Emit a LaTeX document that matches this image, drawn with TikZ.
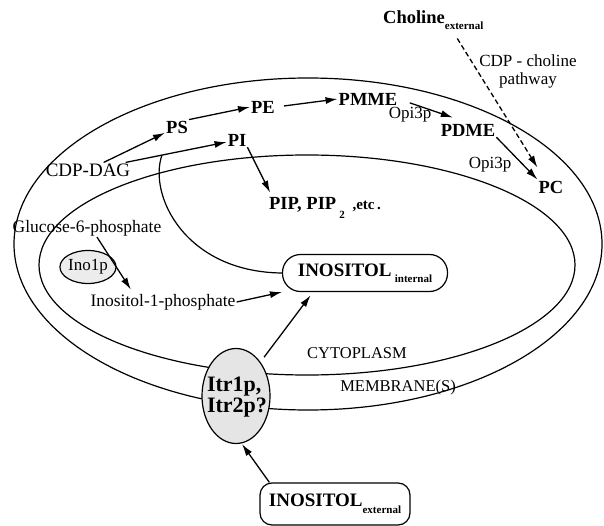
\documentclass[tikz,border=0pt]{standalone}
\usepackage{fontspec}
\setmainfont{Liberation Serif}
\usetikzlibrary{arrows.meta,shapes.geometric}
\newcommand{\fs}[1]{\fontsize{#1}{#1}\selectfont}
\begin{document}
\begin{tikzpicture}[x=1pt,y=-1pt,
  lbl/.style={inner sep=1pt, font=\fs{19}},
  blbl/.style={inner sep=1pt, font=\fs{18.5}\bfseries},
  arr/.style={line width=1.3pt, -{Latex[length=12pt,width=7pt]}},
  dasharr/.style={line width=1.3pt, dashed, dash pattern=on 5pt off 3pt, -{Latex[length=12pt,width=7pt]}},
  memb/.style={line width=1.2pt},
  ibox/.style={draw, line width=1.2pt, inner sep=0pt}]
\useasboundingbox (0,0) rectangle (604,526);

% membranes
\draw[memb] (308,244) ellipse [x radius=294pt, y radius=166pt];
\draw[memb] (307,265) ellipse [x radius=268pt, y radius=110pt];

% labels / nodes
\node[blbl, anchor=base west] (choline) at (382,24) {Choline\raisebox{-6pt}{\fs{11}\bfseries external}};
\node[lbl, align=center, font=\fs{17}] (cdpcp) at (528,71) {CDP - choline\\[1pt]pathway};
\node[lbl] (cdpdag) at (88,170) {CDP-DAG};
\node[blbl] (ps) at (177,127) {PS};
\node[blbl] (pe) at (263,107) {PE};
\node[blbl] (pmme) at (368,99) {PMME};
\node[blbl] (pdme) at (468,130) {PDME};
\node[blbl] (pc) at (551,187) {PC};
\node[lbl, font=\fs{17}] (opi1) at (410,115) {Opi3p};
\node[lbl, font=\fs{17}] (opi2) at (490,165) {Opi3p};
\node[blbl] (pi) at (237,140) {PI};
\node[blbl] (pip) at (325,208) {PIP, PIP\,\raisebox{-9pt}{\fs{11}2}\,\ {\fs{15},etc\,.}};
\node[lbl, font=\fs{17.5}] (glu) at (87,228) {Glucose-6-phosphate};
\node[ellipse, ibox, fill=gray!15, minimum width=54pt, minimum height=33pt, font=\fs{17}] (ino1p) at (88,267) {Ino1p};
\node[lbl, font=\fs{17.5}] (i1p) at (163,302) {Inositol-1-phosphate};
\node[ibox, rounded corners=18pt, minimum width=165pt, minimum height=37pt] (inoint) at (365,273)
  {{\fs{19}\bfseries INOSITOL}\,\,\raisebox{-6pt}{\fs{11}\bfseries internal}};
\node[lbl, font=\fs{16.5}] (cyto) at (357,353) {CYTOPLASM};
\node[lbl, font=\fs{16.5}] (memtext) at (398,388) {MEMBRANE(S)};
\node[ellipse, ibox, fill=gray!20, minimum width=68pt, minimum height=95pt] (itr) at (236,396) {};
\node[align=left, inner sep=0pt, font=\fs{22}\bfseries] (itrtext) at (237,397) {Itr1p,\\[-1pt]Itr2p?};
\node[ibox, rounded corners=12pt, minimum width=150pt, minimum height=42pt] (inoext) at (335,504)
  {{\fs{19}\bfseries INOSITOL}\raisebox{-7pt}{\fs{11}\bfseries external}};

% arrows
\draw[arr] (cdpdag) -- (ps);
\draw[arr] (cdpdag) -- coordinate[pos=0.36] (cv) (pi);
\draw[memb] (cv) .. controls (148,195) and (185,272) .. (inoint.west);
\draw[arr] (ps.north east) -- (pe.west);
\draw[arr, shorten <=8pt] (pe.east) -- (pmme.west);
\draw[arr, shorten <=12pt, shorten >=16pt] (pmme.east) -- (pdme.north);
\draw[arr] (pdme.south east) -- (pc.north west);
\draw[arr, shorten >=4pt] (pi.south east) -- ([xshift=4pt]pip.north west);
\draw[dasharr, shorten <=10pt] ([xshift=70pt,yshift=-6pt]choline.base west) -- ([yshift=12pt]pc.north west);
\draw[arr, shorten >=4pt] ([xshift=10pt]glu.south) -- ([xshift=-30pt]i1p.north);
\draw[arr] (i1p.east) -- (inoint.south west);
\draw[arr, shorten <=6pt, shorten >=4pt] (itr.north east) -- ([xshift=-52pt]inoint.south);
\draw[arr] ([xshift=10pt]inoext.north west) -- ([xshift=6pt]itr.south);
\end{tikzpicture}
\end{document}
